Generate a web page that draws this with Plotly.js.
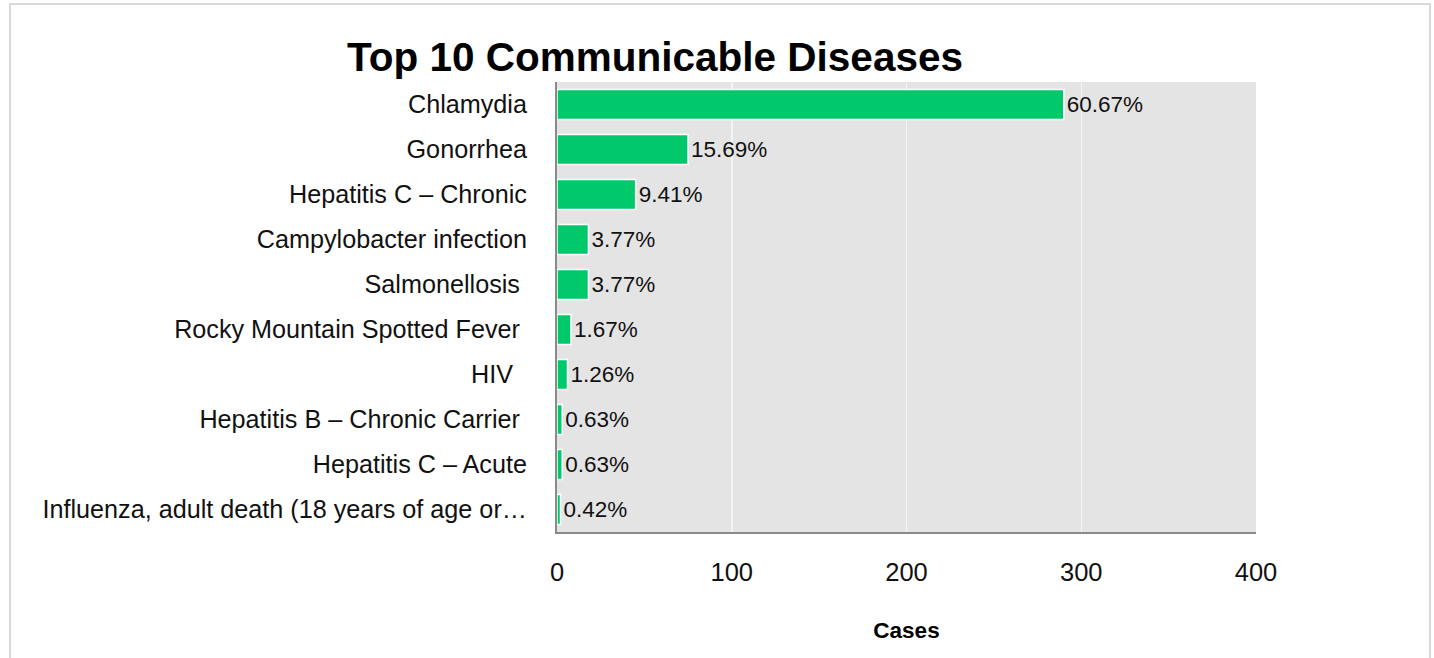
<!DOCTYPE html>
<html>
<head>
<meta charset="utf-8">
<script src="https://cdn.plot.ly/plotly-3.0.1.min.js"></script>
<style>html,body{margin:0;padding:0;background:#fff;}#chart{width:1434px;height:658px;}</style>
</head>
<body>
<div id="chart"></div>
<script>
const categories = [
  "Chlamydia",
  "Gonorrhea",
  "Hepatitis C – Chronic",
  "Campylobacter infection",
  "Salmonellosis\u00a0",
  "Rocky Mountain Spotted Fever\u00a0",
  "HIV\u00a0\u00a0",
  "Hepatitis B – Chronic Carrier\u00a0",
  "Hepatitis C – Acute",
  "Influenza, adult death (18 years of age or…"
];
const cases = [290, 75, 45, 18, 18, 8, 6, 3, 3, 2];
const percentLabels = ["60.67%", "15.69%", "9.41%", "3.77%", "3.77%", "1.67%", "1.26%", "0.63%", "0.63%", "0.42%"];
const xTicks = [0, 100, 200, 300, 400];

const FONT = "Liberation Sans, Arial, sans-serif";

const trace = {
  type: "bar",
  orientation: "h",
  y: categories,
  x: cases,
  text: percentLabels,
  textposition: "outside",
  cliponaxis: false,
  textfont: {family: FONT, size: 22.5, color: "#111"},
  marker: {color: "#00c96b", line: {color: "#ffffff", width: 1.5}},
  hoverinfo: "x+y"
};

const layout = {
  width: 1434,
  height: 658,
  paper_bgcolor: "#ffffff",
  plot_bgcolor: "#e4e4e4",
  margin: {l: 557, r: 178, t: 82, b: 126, pad: 0},
  showlegend: false,
  bargap: 0.33,
  title: {
    text: "<b>Top 10 Communicable Diseases</b>",
    font: {family: FONT, size: 40.5, color: "#000"},
    xref: "container", yref: "container",
    x: 655 / 1434, xanchor: "center",
    y: 1 - 57 / 658, yanchor: "middle"
  },
  xaxis: {
    range: [0, 400],
    tickvals: xTicks,
    ticktext: xTicks.map(String),
    showgrid: true,
    gridcolor: "#f4f4f4",
    gridwidth: 1.5,
    zeroline: false,
    showline: true,
    linecolor: "#8a8a8a",
    linewidth: 2,
    ticks: "outside",
    ticklen: 16,
    tickcolor: "rgba(0,0,0,0)",
    tickfont: {family: FONT, size: 25.5, color: "#111"},
    title: {text: "<b>Cases</b>", font: {family: FONT, size: 22.5, color: "#000"}, standoff: 38},
    fixedrange: true
  },
  yaxis: {
    autorange: "reversed",
    showgrid: false,
    zeroline: false,
    showline: true,
    linecolor: "#8a8a8a",
    linewidth: 2,
    ticks: "outside",
    ticklen: 23,
    tickcolor: "rgba(0,0,0,0)",
    tickfont: {family: FONT, size: 25.2, color: "#111"},
    fixedrange: true
  },
  shapes: [{
    type: "rect", xref: "paper", yref: "paper",
    x0: (10 - 557) / 699, x1: (1430 - 557) / 699,
    y0: (532 - 700) / 450, y1: (532 - 4) / 450,
    line: {color: "#d9d9d9", width: 2},
    fillcolor: "rgba(0,0,0,0)",
    layer: "below"
  }]
};

Plotly.newPlot("chart", [trace], layout, {displayModeBar: false, staticPlot: true});
</script>
</body>
</html>
